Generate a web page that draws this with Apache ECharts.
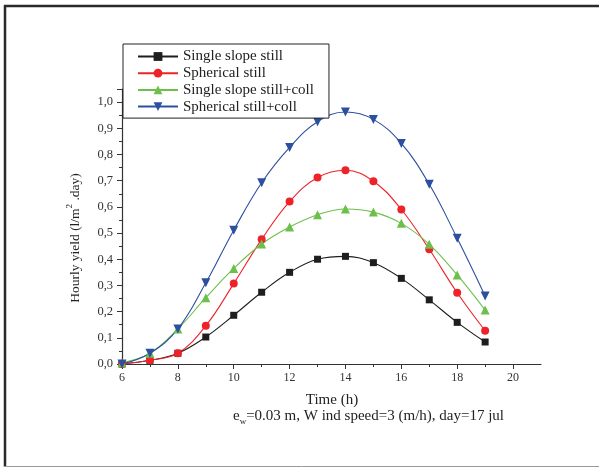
<!DOCTYPE html>
<html>
<head>
<meta charset="utf-8">
<script src="https://cdn.jsdelivr.net/npm/echarts@6/dist/echarts.min.js"></script>
<style>
html,body{margin:0;padding:0;background:#fff;}
#chart{width:599px;height:468px;}
</style>
</head>
<body>
<div id="chart"></div>
<script>
var hours = [6, 7, 8, 9, 10, 11, 12, 13, 14, 15, 16, 17, 18, 19];
var singleSlope = [0.0, 0.014, 0.041, 0.103, 0.186, 0.274, 0.350, 0.400, 0.411, 0.387, 0.327, 0.245, 0.159, 0.084];
var spherical = [0.0, 0.014, 0.041, 0.146, 0.307, 0.476, 0.620, 0.712, 0.740, 0.698, 0.590, 0.438, 0.272, 0.127];
var singleSlopeColl = [0.005, 0.041, 0.134, 0.253, 0.365, 0.458, 0.523, 0.570, 0.592, 0.580, 0.537, 0.457, 0.340, 0.206];
var sphericalColl = [0.0, 0.041, 0.134, 0.310, 0.511, 0.692, 0.827, 0.925, 0.962, 0.934, 0.842, 0.686, 0.480, 0.260];
var seriesNames = ['Single slope still', 'Spherical still', 'Single slope still+coll', 'Spherical still+coll'];
var xTicks = [6, 8, 10, 12, 14, 16, 18, 20];
var yTicks = [0, 0.1, 0.2, 0.3, 0.4, 0.5, 0.6, 0.7, 0.8, 0.9, 1.0];

function pairs(vals) { return hours.map(function (h, i) { return [h, vals[i]]; }); }
var font = 'Liberation Serif, Times New Roman, serif';

var chart = echarts.init(document.getElementById('chart'));
var mk = function (name, data, color, symbol, size, rot) {
  return {
    name: name, type: 'line', data: pairs(data), smooth: 0.4,
    symbol: symbol, symbolSize: size, symbolRotate: rot || 0, showSymbol: true,
    lineStyle: { color: color, width: 1.1 }, itemStyle: { color: color },
    emphasis: { disabled: true }, animation: false
  };
};
chart.setOption({
  backgroundColor: '#fff',
  animation: false,
  grid: { left: 122, right: 58, top: 89, bottom: 104, containLabel: false },
  xAxis: {
    type: 'value', min: 6, max: 21, interval: 2,
    axisLine: { show: true, onZero: false, lineStyle: { color: '#333', width: 1.2 } },
    axisTick: { show: true, inside: false, length: 5, lineStyle: { color: '#333' },
      customValues: xTicks },
    minorTick: { show: true, splitNumber: 2, length: 3, lineStyle: { color: '#333' } },
    splitLine: { show: false },
    axisLabel: { color: '#333', fontFamily: font, fontSize: 12, margin: 8,
      customValues: xTicks, formatter: function (v) { return String(v); } }
  },
  yAxis: {
    type: 'value', min: 0, max: 1.05, interval: 0.1,
    axisLine: { show: true, lineStyle: { color: '#333', width: 1.2 } },
    axisTick: { show: true, inside: false, length: 5, lineStyle: { color: '#333' } },
    minorTick: { show: true, splitNumber: 2, length: 3, lineStyle: { color: '#333' } },
    splitLine: { show: false },
    axisLabel: { color: '#333', fontFamily: font, fontSize: 12.5, margin: 9,
      customValues: yTicks,
      formatter: function (v) { return v.toFixed(1).replace('.', ','); } }
  },
  legend: {
    show: true, orient: 'vertical', left: 123, top: 44,
    padding: [5, 15, 4, 14],
    itemGap: 1.7, itemWidth: 40, itemHeight: 11,
    backgroundColor: '#fff',
    borderColor: '#222', borderWidth: 1,
    textStyle: { fontFamily: font, fontSize: 15, color: '#222' },
    data: seriesNames
  },
  series: [
    mk(seriesNames[0], singleSlope, '#1e1e1e', 'rect', 7),
    mk(seriesNames[1], spherical, '#ee2229', 'circle', 8),
    mk(seriesNames[2], singleSlopeColl, '#6cc04a', 'triangle', 9),
    mk(seriesNames[3], sphericalColl, '#2c4fa0', 'triangle', 9, 180)
  ],
  graphic: [
    { type: 'line', shape: { x1: 5, y1: 5, x2: 5, y2: 467 }, style: { stroke: '#2a2a2a', lineWidth: 2.5 } },
    { type: 'line', shape: { x1: 4, y1: 6, x2: 599, y2: 6 }, style: { stroke: '#2a2a2a', lineWidth: 2.5 } },
    { type: 'line', shape: { x1: 4, y1: 466.5, x2: 599, y2: 466.5 }, style: { stroke: '#999', lineWidth: 1 } },
    { type: 'text', x: 332, y: 400, style: { text: 'Time (h)', fontFamily: font, fontSize: 15, fill: '#222',
      align: 'center', verticalAlign: 'middle' } },
    { type: 'text', x: 233, y: 416, style: {
      text: '{n|e}{s|w}{n|=0.03 m, W ind speed=3 (m/h), day=17 jul}',
      fontFamily: font, fill: '#222', align: 'left', verticalAlign: 'middle',
      rich: {
        n: { fontFamily: font, fontSize: 15, fill: '#222', lineHeight: 20, verticalAlign: 'middle' },
        s: { fontFamily: font, fontSize: 9, fill: '#222', lineHeight: 20, verticalAlign: 'bottom' }
      } } },
    { type: 'text', x: 75, y: 238, rotation: Math.PI / 2, style: {
      text: '{n|Hourly yield (l/m}{p|2}{n| .day)}',
      fontFamily: font, fill: '#222', align: 'center', verticalAlign: 'middle',
      rich: {
        n: { fontFamily: font, fontSize: 13.5, fill: '#222', lineHeight: 20, verticalAlign: 'middle' },
        p: { fontFamily: font, fontSize: 9, fill: '#222', lineHeight: 20, verticalAlign: 'top' }
      } } }
  ]
});
</script>
</body>
</html>
